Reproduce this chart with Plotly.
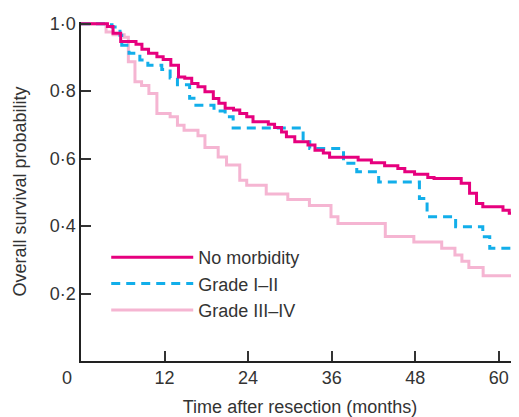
import plotly.graph_objects as go

# Kaplan-Meier step data (months, survival probability)
nm_t = [0, 3.8, 4.6, 5.7, 7.9, 8.75, 9.7, 10.9, 11.8, 12.9, 14.0, 14.9, 15.9, 16.8, 17.8, 19.0, 19.8, 20.7, 21.9, 22.8,
        23.8, 24.7, 26.9, 27.8, 28.8, 29.5, 30.7, 32.6, 33.6, 34.8, 35.7, 39.8, 41.7, 43.6, 45.5, 46.5, 47.9, 49.8, 50.7, 54.6,
        55.8, 56.8, 57.7, 60.6, 61.5, 62.3, 62.9]
nm_s = [1.0, 0.992, 0.972, 0.947, 0.939, 0.924, 0.912, 0.902, 0.894, 0.877, 0.842, 0.838, 0.823, 0.813, 0.798, 0.778, 0.764, 0.749, 0.744, 0.734,
        0.724, 0.709, 0.702, 0.692, 0.679, 0.665, 0.650, 0.640, 0.625, 0.617, 0.604, 0.596, 0.588, 0.579, 0.571, 0.561, 0.554, 0.544, 0.541, 0.527,
        0.497, 0.467, 0.457, 0.447, 0.438, 0.428, 0.428]

g12_t = [0, 3.6, 4.45, 5.6, 5.85, 6.9, 8.45, 9.6, 11.6, 12.8, 13.85, 15.6, 16.5, 19.1, 20.7, 21.85, 31.9, 32.85, 37.7, 39.6,
         42.75, 48.6, 49.7, 53.8, 57.7, 58.7, 62.9]
g12_s = [1.0, 0.997, 0.99, 0.966, 0.936, 0.912, 0.892, 0.877, 0.864, 0.839, 0.819, 0.779, 0.758, 0.741, 0.724, 0.691, 0.650, 0.630, 0.586, 0.561,
         0.531, 0.482, 0.428, 0.398, 0.368, 0.334, 0.334]

g34_t = [0, 3.6, 4.6, 6.2, 6.8, 7.75, 8.7, 9.75, 10.9, 12.8, 13.85, 14.8, 16.8, 17.8, 19.7, 20.9, 22.8, 23.8, 26.6, 29.7,
         32.8, 35.9, 36.9, 43.7, 47.8, 51.8, 53.7, 54.7, 55.7, 57.75, 62.75, 62.9]
g34_s = [1.0, 0.975, 0.967, 0.960, 0.887, 0.828, 0.817, 0.793, 0.734, 0.724, 0.699, 0.684, 0.668, 0.633, 0.605, 0.581, 0.536, 0.521, 0.495, 0.479,
         0.461, 0.428, 0.408, 0.369, 0.353, 0.334, 0.314, 0.296, 0.277, 0.253, 0.230, 0.230]

series_names = ["No morbidity", "Grade I\u2013II", "Grade III\u2013IV"]

x_ticks = [12, 24, 36, 48, 60]
x_ticktext = ["12", "24", "36", "48", "60"]
y_ticks = [0.2, 0.4, 0.6, 0.8, 1.0]
y_ticktext = ["0\u00b72", "0\u00b74", "0\u00b76", "0\u00b78", "1\u00b70"]

FONT = "Liberation Sans, Arial, Helvetica, sans-serif"
TXT = "#333333"
FS = 18

fig = go.Figure()
fig.add_trace(go.Scatter(x=g34_t, y=g34_s, mode="lines", line_shape="hv", name=series_names[2],
                         line=dict(color="#F5B5D2", width=3), legendrank=3))
fig.add_trace(go.Scatter(x=g12_t, y=g12_s, mode="lines", line_shape="hv", name=series_names[1],
                         line=dict(color="#12AEEA", width=3, dash="9px,6px"), legendrank=2))
fig.add_trace(go.Scatter(x=nm_t, y=nm_s, mode="lines", line_shape="hv", name=series_names[0],
                         line=dict(color="#E6007E", width=3), legendrank=1))

# page body has an 8px margin, so the figure is sized to fit inside the window
fig.update_layout(
    width=511, height=409,
    margin=dict(l=73, r=0, t=14, b=56),
    paper_bgcolor="white", plot_bgcolor="white",
    font=dict(family=FONT, size=FS, color=TXT),
    showlegend=True,
    legend=dict(x=0.0576, y=0.36, xanchor="left", yanchor="top", bgcolor="rgba(0,0,0,0)",
                font=dict(size=FS, color=TXT), itemwidth=82, tracegroupgap=0),
    xaxis=dict(range=[0, 62.9], tickvals=x_ticks, ticktext=x_ticktext, ticks="inside", ticklen=10,
               tickwidth=1.5, tickcolor="#333", showline=True, linecolor="#222", linewidth=1.5,
               showgrid=False, zeroline=False, tickfont=dict(size=FS),
               title=dict(text="Time after resection (months)", standoff=16, font=dict(size=FS, color=TXT))),
    yaxis=dict(range=[0, 1.005], tickvals=y_ticks, ticktext=y_ticktext, ticks="inside", ticklen=10,
               tickwidth=1.5, tickcolor="#333", showline=True, linecolor="#222", linewidth=1.5,
               showgrid=False, zeroline=False, tickfont=dict(size=FS),
               title=dict(text="Overall survival probability", standoff=18, font=dict(size=FS, color=TXT))),
    annotations=[dict(text="0", x=-0.032, y=-0.05, xref="paper", yref="paper", showarrow=False,
                      xanchor="center", yanchor="middle", font=dict(size=FS, color=TXT))],
)

fig.write_html("out.html")
